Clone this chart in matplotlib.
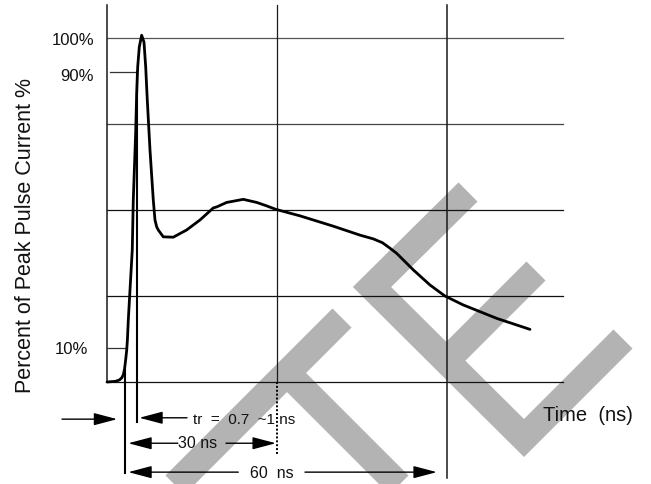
import matplotlib
matplotlib.use("Agg")
import matplotlib.pyplot as plt
from matplotlib.patches import FancyArrowPatch
from matplotlib.lines import Line2D

plt.rcParams['font.family'] = ['Liberation Sans', 'DejaVu Sans']

# ---------------- data ----------------
TIME_NS = [0.0, 1.5, 2.2, 2.6, 2.9, 3.1, 3.3, 3.48, 3.6, 3.76, 4.06, 4.46, 4.64, 5.06,
           5.24, 5.42, 5.70, 6.12, 6.53, 6.83, 7.11, 7.59, 8.17, 8.47, 8.77,
           9.05, 9.93, 11.7, 14.06, 16.41, 18.76, 19.36, 21.12, 24.05, 26.42,
           28.18, 29.77, 34.06, 39.93, 44.64, 47.0, 48.6, 49.94, 51.12, 54.05,
           57.0, 59.64, 62.87, 68.77, 74.64]
CURRENT_PCT = [0.0, 0.2, 0.6, 1.2, 2.2, 3.8, 6.5, 9.3, 12.2, 18.0, 26.7, 38.4, 52.9, 72.4,
               84.0, 91.6, 97.4, 100.8, 98.8, 91.6, 82.0, 67.4, 52.9, 47.1, 45.1,
               44.2, 42.2, 42.1, 44.2, 47.1, 50.6, 50.9, 52.2, 53.1, 52.2,
               51.2, 50.2, 48.3, 45.3, 42.7, 41.6, 40.5, 38.9, 37.4, 32.6,
               28.2, 25.0, 22.4, 18.5, 15.3]

GRID_Y = [0, 25, 50, 75, 100]
GRID_X = [0, 30, 60]
TICK_VALUES = [100, 90, 10]
TICK_LABELS = ['100%', '90%', '10%']
T_START = 3.18      # pulse start marker
T_RISE = 5.29       # end of rise-time marker
T_30 = 30
T_60 = 60
X_END = 80.5
Y_TOP = 109.6

# ---------------- figure ----------------
W, H = 651, 484
fig = plt.figure(figsize=(W / 100, H / 100), dpi=100)
ax = fig.add_axes([0, 0, 1, 1])
ax.set_xlim(-18.88, 96.0)
ax.set_ylim(-29.65, 111.05)
ax.axis('off')

# watermark (decoration, figure pixel coords)
wm_col = '#b3b3b3'
wm_lw = 19.4
def px(pts):
    return [p[0] / W for p in pts], [1 - p[1] / H for p in pts]
for pts in ([(342, 318), (150, 510)],
            [(287, 373), (420, 506)],
            [(468, 192), (372, 287), (524, 438), (623, 339)],
            [(446, 361), (536, 271)]):
    xs, ys = px(pts)
    fig.add_artist(Line2D(xs, ys, transform=fig.transFigure, color=wm_col,
                          lw=wm_lw, solid_capstyle='butt',
                          solid_joinstyle='miter', zorder=0))

# grid
grid_cols = {0: '#111111', 25: '#111111', 50: '#111111', 75: '#444444', 100: '#555555'}
for gy in GRID_Y:
    ax.plot([0, X_END], [gy, gy], color=grid_cols[gy], lw=0.9, zorder=2)
for gx in GRID_X:
    bottom = -27.9 if gx == T_60 else 0
    ax.plot([gx, gx], [bottom, Y_TOP], color='#1a1a1a',
            lw=1.1 if gx != T_30 else 0.9, zorder=2)
ax.plot([T_30, T_30], [0, -21.2], color='black', lw=1.4, ls=(0, (1, 1)), zorder=2)

# short ticks at 90 % and 10 %
ax.plot([0.53, T_RISE], [90, 90], color='#333333', lw=0.9, zorder=2)
ax.plot([0, T_START], [10, 10], color='#333333', lw=0.9, zorder=2)

# marker lines
ax.plot([T_START, T_START], [3.8, -26.5], color='black', lw=1.5, zorder=3)
ax.plot([T_RISE, T_RISE], [90, -11.6], color='black', lw=1.5, zorder=3)

# pulse curve
ax.plot(TIME_NS, CURRENT_PCT, color='black', lw=2.0, zorder=4,
        solid_joinstyle='round', solid_capstyle='round')

# labels
for v, lab in zip(TICK_VALUES, TICK_LABELS):
    dy = {100: -0.8, 90: -1.2, 10: -0.6}[v]
    ax.text(-2.3 if v != 10 else -3.35, v + dy, lab, ha='right', va='center',
            fontsize=12, color='#111111')
ax.text(-14.4, 42.7, 'Percent of Peak Pulse Current %', rotation=90,
        ha='center', va='center', fontsize=15.5, color='#111111')
ax.text(76.9, -9.6, 'Time  (ns)', ha='left', va='center', fontsize=14.5,
        color='#111111')

# arrows
def arrow(x0, x1, y):
    a = FancyArrowPatch((x0, y), (x1, y),
                        arrowstyle='-|>,head_length=14.4,head_width=3.8',
                        mutation_scale=1, lw=1.0, color='black',
                        shrinkA=0, shrinkB=0, zorder=5)
    ax.add_patch(a)

arrow(-7.94, 1.8, -10.8)
arrow(14.12, 5.70, -10.4)
arrow(12.5, 3.76, -17.8)
arrow(21.0, T_30 - 0.2, -17.8)
arrow(23.17, 3.76, -26.2)
arrow(34.94, 58.2, -26.2)

ax.text(15.2, -11.0, 'tr  =  0.7  ~1 ns', ha='left', va='center', fontsize=11,
        color='#111111', zorder=6)
ax.text(12.6, -17.8, '30 ns', ha='left', va='center', fontsize=11.5,
        color='#111111', zorder=6)
ax.text(29.0, -26.5, '60  ns', ha='center', va='center', fontsize=11.5,
        color='#111111', zorder=6)

fig.savefig('out.png', dpi=100)
